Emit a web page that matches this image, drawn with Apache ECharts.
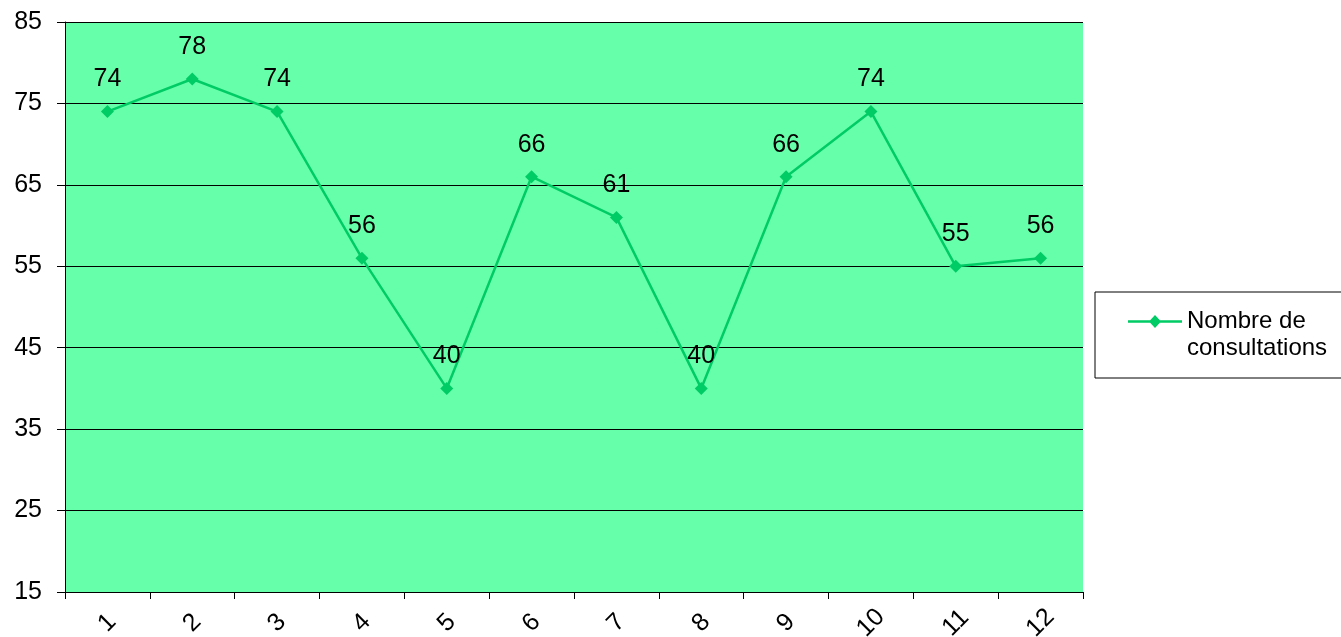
<!DOCTYPE html>
<html>
<head>
<meta charset="utf-8">
<script src="https://cdn.jsdelivr.net/npm/echarts@6/dist/echarts.min.js"></script>
<style>
  html, body { margin: 0; padding: 0; background: #ffffff; }
  #chart { width: 1341px; height: 637px; }
</style>
</head>
<body>
<div id="chart"></div>
<script>
// Monthly consultation counts
const months = ['1', '2', '3', '4', '5', '6', '7', '8', '9', '10', '11', '12'];
const consultations = [74, 78, 74, 56, 40, 66, 61, 40, 66, 74, 55, 56];
const seriesName = 'Nombre de\nconsultations';
const yMin = 15, yMax = 85, yStep = 10;

const chart = echarts.init(document.getElementById('chart'), null, { renderer: 'canvas' });
const font = 'Liberation Sans, Arial, sans-serif';

// Legend marker: a short line with a diamond, drawn in the top part of a taller box
// so it sits level with the first line of the two-line legend text.
const legendMarker = 'path://M0,41 L0.01,41 Z ' +
  'M0,6.25 L54,6.25 L54,8.75 L0,8.75 Z ' +
  'M27,1 L33,7.5 L27,14 L21,7.5 Z';

chart.setOption({
  animation: false,
  backgroundColor: '#ffffff',
  grid: {
    left: 65, top: 22, width: 1018, height: 570,
    outerBoundsMode: 'none',
    containLabel: false,
    show: true, backgroundColor: '#66FFAA', borderWidth: 0
  },
  legend: {
    data: [{ name: seriesName, icon: legendMarker }],
    orient: 'vertical',
    left: 1095, top: 292,
    padding: [16, 20, 16, 33],
    itemWidth: 54, itemHeight: 41,
    itemGap: 0,
    itemStyle: { borderWidth: 0, color: '#00CC66' },
    borderColor: '#000000', borderWidth: 1,
    backgroundColor: '#ffffff',
    textStyle: { fontFamily: font, fontSize: 24, color: '#000000', lineHeight: 27 }
  },
  xAxis: {
    type: 'category',
    data: months,
    boundaryGap: true,
    axisLine: { show: true, lineStyle: { color: '#000000', width: 1 } },
    axisTick: { show: true, alignWithLabel: false, length: 7, lineStyle: { color: '#000000' } },
    axisLabel: {
      rotate: 45, margin: 31, interval: 0,
      align: 'center', verticalAlign: 'middle',
      fontFamily: font, fontSize: 25, color: '#000000'
    },
    splitLine: { show: false }
  },
  yAxis: {
    type: 'value',
    min: yMin, max: yMax, interval: yStep,
    axisLine: { show: true, lineStyle: { color: '#000000', width: 1 } },
    axisTick: { show: true, length: 8, lineStyle: { color: '#000000' } },
    axisLabel: { margin: 23, fontFamily: font, fontSize: 25, color: '#000000' },
    splitLine: { show: true, lineStyle: { color: '#000000', width: 1 } }
  },
  series: [{
    name: seriesName,
    type: 'line',
    data: consultations,
    symbol: 'diamond',
    symbolSize: 13,
    itemStyle: { color: '#00CC66' },
    lineStyle: { color: '#00CC66', width: 2.5 },
    label: {
      show: true, position: 'top', distance: 13,
      fontFamily: font, fontSize: 25, color: '#000000'
    }
  }]
});
</script>
</body>
</html>
